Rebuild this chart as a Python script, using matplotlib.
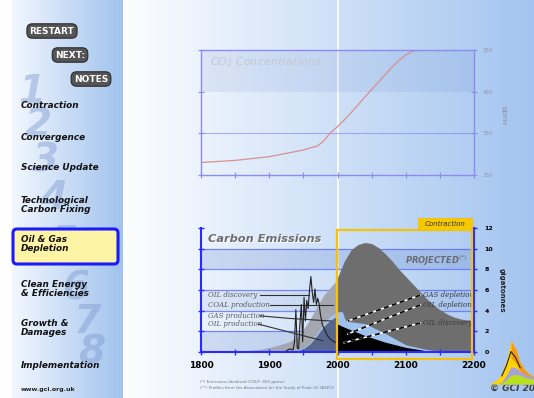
import numpy as np
import matplotlib
matplotlib.use('Agg')
import matplotlib.pyplot as plt
from matplotlib.patches import FancyBboxPatch, Rectangle

W, H = 534, 398

# CO2-Konzentration (ppmv)
co2_jahre = [1800, 1850, 1900, 1925, 1950, 1960, 1970, 1980, 1990, 2000, 2010, 2020,
             2030, 2040, 2050, 2060, 2070, 2080, 2090, 2100, 2110, 2120, 2130, 2200]
co2_werte = [280, 285, 294, 302, 310, 315, 319, 332, 352, 366, 382, 400,
             418, 437, 455, 473, 491, 509, 525, 538, 547, 550, 550, 550]

# historische Emissionen (GtC)
hist_jahre = [1850, 1870, 1890, 1910, 1920, 1930, 1940, 1950, 1960, 1970, 1980, 1990, 2000]
kohle_hist = [0.05, 0.15, 0.3, 0.6, 0.8, 1.0, 1.4, 2.2, 3.2, 4.4, 5.5, 6.3, 7.0]
gas_hist = [0, 0, 0, 0, 0, 0.05, 0.15, 0.4, 0.9, 1.8, 2.8, 3.5, 3.9]
oel_hist = [0, 0, 0, 0, 0, 0.03, 0.1, 0.3, 0.8, 1.6, 2.5, 3.1, 3.5]

# Ölfunde (Linie)
fund_jahre = [1925, 1930, 1935, 1937, 1939, 1941, 1943, 1945, 1947, 1949, 1951, 1953, 1955,
              1957, 1959, 1961, 1963, 1965, 1967, 1969, 1971, 1973, 1975, 1978, 1981,
              1985, 1990, 1995, 2000]
fund = [0.1, 0.3, 0.2, 1.0, 4.1, 0.4, 0.3, 2.8, 4.6, 1.0, 5.3, 3.0, 5.0,
        4.2, 6.0, 7.3, 5.8, 4.8, 6.1, 4.6, 5.2, 4.7, 3.6, 2.6, 2.2,
        1.6, 1.2, 1.0, 0.8]

# Projektion (GtC)
proj_jahre = [2000, 2010, 2020, 2030, 2040, 2050, 2060, 2070, 2080, 2090, 2100,
              2110, 2120, 2130, 2140, 2150, 2160, 2170, 2180, 2190, 2200]
gesamt_proj = [7.2, 8.8, 9.9, 10.4, 10.6, 10.5, 10.1, 9.5, 8.8, 8.0, 7.3,
               6.6, 5.9, 5.2, 4.6, 4.1, 3.7, 3.4, 3.2, 3.1, 3.1]
gas_jahre = [2000, 2007, 2012, 2040, 2070, 2100, 2130, 2150, 2170, 2200]
gas_proj = [3.9, 3.9, 3.0, 2.75, 1.8, 0.7, 0.25, 0.08, 0, 0]
oel_jahre = [2000, 2010, 2040, 2070, 2100, 2130, 2160, 2200]
oel_proj = [2.7, 2.4, 1.6, 0.95, 0.45, 0.12, 0, 0]

menue = ['Contraction', 'Convergence', 'Science Update', 'Technological\nCarbon Fixing',
         'Oil & Gas\nDepletion', 'Clean Energy\n& Efficiencies', 'Growth &\nDamages',
         'Implementation']
knoepfe = ['RESTART', 'NEXT:', 'NOTES']

# Logo-Profil
logo_x = [0, 1, 2, 3, 4, 5, 6, 7, 8, 9, 10]
logo_gelb = [0, 0.3, 0.8, 2.0, 4.5, 8.0, 6.5, 4.0, 2.6, 1.8, 1.4]
logo_gruen = [0, 0, 0, 0.2, 0.8, 1.6, 1.8, 1.6, 1.2, 1.0, 0.9]
logo_lila = [0, 0, 0, 0.4, 1.6, 3.2, 3.0, 2.4, 1.8, 1.5, 1.3]


def fig_rect(x0, y0, x1, y1):
    return [x0 / W, 1 - y1 / H, (x1 - x0) / W, (y1 - y0) / H]


fig = plt.figure(figsize=(W / 100, H / 100), dpi=100)

# Hintergrund mit Farbverlauf
bild = np.ones((H, W, 3))
blau_nav = np.array([0.63, 0.76, 0.93])
blau_rechts = np.array([0.64, 0.77, 0.94])
for x in range(W):
    if x < 12:
        c = np.array([1.0, 1.0, 1.0])
    elif x < 123:
        t = (x - 12) / 111
        c = (1 - t) * np.array([0.95, 0.97, 1.0]) + t * blau_nav
    else:
        t = (x - 123) / (W - 123)
        c = (1 - t) * np.array([0.99, 0.995, 1.0]) + t * blau_rechts
    bild[:, x] = c

ov = fig.add_axes([0, 0, 1, 1])
ov.set_xlim(0, W)
ov.set_ylim(H, 0)
ov.axis('off')
ov.imshow(bild, extent=(0, W, H, 0), aspect='auto', zorder=0)
ov.plot([338, 338], [0, H], color='white', lw=1.5, alpha=0.8, zorder=1)

# grosse Ziffern
ziffer_pos = [(32, 92), (38, 125), (45, 160), (54, 198), (64, 243), (76, 288), (87, 322), (92, 352)]
for i, (zx, zy) in enumerate(ziffer_pos):
    ov.text(zx, zy, str(i + 1), fontsize=28, fontweight='bold', style='italic',
            color='#7f9bd0', alpha=0.45, ha='center', va='center', zorder=2)

# Knöpfe
knopf_pos = [(52, 31), (70, 55), (91, 79)]
for name, (kx, ky) in zip(knoepfe, knopf_pos):
    ov.text(kx, ky, name, fontsize=6.5, fontweight='bold', color='white', ha='center', va='center',
            zorder=4, bbox=dict(boxstyle='round,pad=0.3,rounding_size=0.6', fc='#555555', ec='#2a2a2a', lw=0.8))

# Menü
hl = FancyBboxPatch((13, 229), 105, 35, boxstyle='round,pad=0,rounding_size=4',
                    fc='#fff3a6', ec='#1a1aff', lw=2.2, zorder=3)
ov.add_patch(hl)
menue_y = [106, 137, 168, 205, 244, 289, 328, 366]
for name, my in zip(menue, menue_y):
    ov.text(21, my, name, fontsize=6.4, fontweight='bold', style='italic', color='#111111',
            ha='left', va='center', linespacing=0.95, zorder=4)
ov.text(21, 389, 'www.gci.org.uk', fontsize=4.5, fontweight='bold', color='#222222',
        ha='left', va='center', zorder=4)

# Fussnoten
ov.text(200, 382, '(*) Emissions Idealised (CSLP: 450 ppmv)', fontsize=3, color='#707888', va='center', zorder=4)
ov.text(200, 388, '(**) Profiles from the Association for the Study of Peak Oil (ASPO)', fontsize=3,
        color='#707888', va='center', zorder=4)
ov.text(490, 388, '\u00a9 GCI 2003', fontsize=6.5, fontweight='bold', style='italic', color='#404040',
        va='center', ha='left', zorder=4, clip_on=False)

# ---- CO2 Diagramm ----
ax1 = fig.add_axes(fig_rect(201, 50, 474, 175))
ax1.set_zorder(2)
ax1.patch.set_alpha(0)
ax1.set_xlim(1800, 2200)
ax1.set_ylim(250, 550)
ax1.axhspan(450, 550, color='#4a70c0', alpha=0.10, lw=0)
ax1.axhline(350, color='#8080f0', lw=0.8, alpha=0.6)
ax1.plot(co2_jahre, co2_werte, color='#d89090', lw=0.9)
for s in ax1.spines.values():
    s.set_color('#8c8cf0')
    s.set_linewidth(1)
ax1.set_xticks(np.arange(1800, 2201, 50))
ax1.set_xticklabels([])
ax1.set_yticks([250, 350, 450, 550])
ax1.tick_params(axis='both', direction='inout', length=4, color='#8c8cf0')
ax1.tick_params(axis='y', left=True, right=True, labelleft=False, labelright=True,
                labelsize=4, labelcolor='#9098b0', pad=4)
ax1.text(0.033, 0.9, r'CO$_2$ Concentrations', transform=ax1.transAxes, fontsize=8,
         style='italic', color='#c3c7d0', va='center')
ax1.text(1.106, 0.47, 'ppmv', transform=ax1.transAxes, rotation=-90, fontsize=5,
         color='#8890a8', va='center', ha='center')

# ---- Emissionen ----
ax2 = fig.add_axes(fig_rect(201, 228, 474, 352))
ax2.set_zorder(2)
ax2.patch.set_alpha(0)
ax2.set_xlim(1800, 2200)
ax2.set_ylim(0, 12)
ax2.axhspan(0, 2, color='#3a64c0', alpha=0.16, lw=0, zorder=0)
ax2.axhspan(4, 6, color='#3a64c0', alpha=0.08, lw=0, zorder=0)
ax2.axhspan(8, 10, color='#3a64c0', alpha=0.18, lw=0, zorder=0)
for g in [2, 4, 6, 8, 10]:
    ax2.axhline(g, color='#5060f0', lw=0.9, alpha=0.7, zorder=0.5)

ax2.fill_between(hist_jahre, kohle_hist, color='#a4a7b0', lw=0, zorder=1)
ax2.fill_between(hist_jahre, gas_hist, color='#a4c4ec', lw=0, zorder=1.1)
ax2.fill_between(hist_jahre, oel_hist, color='#58668c', lw=0, zorder=1.2)
ax2.plot(fund_jahre, fund, color='#202020', lw=0.8, zorder=3)

ax2.fill_between(proj_jahre, gesamt_proj, color='#6e6e6e', lw=0, zorder=1.5)
ax2.fill_between(gas_jahre, gas_proj, color='#a0c2ee', lw=0, zorder=1.6)
ax2.fill_between(oel_jahre, oel_proj, color='#000000', lw=0, zorder=1.7)

# Beschriftungen historisch
hist_labels = [('OIL discovery', 5.5, [1886, 1958], [5.5, 5.5]),
               ('COAL production', 4.55, [1901, 1993], [4.55, 4.55]),
               ('GAS production', 3.5, [1886, 1930, 1990], [3.5, 3.25, 3.0]),
               ('OIL production', 2.7, [1884, 1978], [2.7, 1.1])]
for name, ly, lx_, ly_ in hist_labels:
    ax2.text(1810, ly, name, fontsize=5, family='serif', style='italic', color='#5a5a66',
             va='center', zorder=4)
    ax2.plot(lx_, ly_, color='#303030', lw=0.8, zorder=4)

# Beschriftungen Projektion
proj_labels = [('GAS depletion', 5.5, [2121, 2015], [5.5, 3.0]),
               ('OIL depletion', 4.55, [2121, 2015], [4.55, 1.75]),
               ('OIL discovery', 2.8, [2121, 2010], [2.8, 0.9])]
for name, ly, lx_, ly_ in proj_labels:
    ax2.text(2125, ly, name, fontsize=5, family='serif', style='italic', color='#3a3a44',
             va='center', zorder=4)
    ax2.plot(lx_, ly_, color='white', lw=1.2, zorder=4)
    ax2.plot(lx_, ly_, color='black', lw=1.2, ls=(0, (3, 2)), zorder=4.1)

ax2.text(2190, 8.8, 'PROJECTED$^{(*)}$', fontsize=6, fontweight='bold', style='italic',
         color='#6a6a74', ha='right', va='center', zorder=4)
ax2.text(0.03, 0.9, 'Carbon Emissions', transform=ax2.transAxes, fontsize=8.2, fontweight='bold',
         style='italic', color='white', va='center', zorder=4)
ax2.text(0.027, 0.91, 'Carbon Emissions', transform=ax2.transAxes, fontsize=8.2, fontweight='bold',
         style='italic', color='#6c6c74', va='center', zorder=4.1)

# Contraction-Rahmen
ax2.add_patch(Rectangle((1999.5, -0.7), 197.5, 12.5, fill=False, ec='#f2c20e', lw=1.6,
                        clip_on=False, zorder=5))
ax2.add_patch(Rectangle((2118, 11.8), 79, 1.2, fc='#f6c800', ec='#f2c20e', lw=0.8,
                        clip_on=False, zorder=5))
ax2.text(2157.5, 12.4, 'Contraction', fontsize=5, style='italic', color='#333333',
         ha='center', va='center', zorder=6, clip_on=False)

for s in ['left', 'bottom', 'right']:
    ax2.spines[s].set_color('#2a2aff')
    ax2.spines[s].set_linewidth(1.5)
ax2.spines['top'].set_visible(False)
ax2.set_xticks(np.arange(1800, 2201, 100))
ax2.set_xticks(np.arange(1800, 2201, 50), minor=True)
ax2.set_yticks(np.arange(0, 13, 2))
ax2.tick_params(axis='both', which='both', direction='inout', length=5, color='#2a2aff', width=1)
ax2.tick_params(axis='x', labelsize=6.5, pad=4)
ax2.tick_params(axis='y', left=True, right=True, labelleft=False, labelright=True,
                labelsize=4.5, pad=5)
for lab in ax2.get_xticklabels() + ax2.get_yticklabels():
    lab.set_fontweight('bold')
ax2.text(1.10, 0.5, 'gigatonnes', transform=ax2.transAxes, rotation=-90, fontsize=5,
         fontweight='bold', color='#222222', va='center', ha='center')

# Logo
lg = fig.add_axes(fig_rect(488, 338, 534, 384))
lg.set_zorder(3)
lg.axis('off')
lg.set_xlim(0, 10)
lg.set_ylim(0, 8.5)
lg.fill_between(logo_x, logo_gelb, color='#ffd400', lw=0)
lg.fill_between(logo_x[5:], logo_gelb[5:], [v * 0.6 for v in logo_gelb[5:]], color='#f59a10', lw=0)
lg.fill_between(logo_x, logo_lila, color='#a8a0d8', lw=0)
lg.fill_between(logo_x, logo_gruen, color='#b8e020', lw=0)
lg.plot(logo_x[3:8], [v * 0.75 for v in logo_gelb[3:8]], color='#222222', lw=0.8)

fig.savefig('out.png', dpi=100)
